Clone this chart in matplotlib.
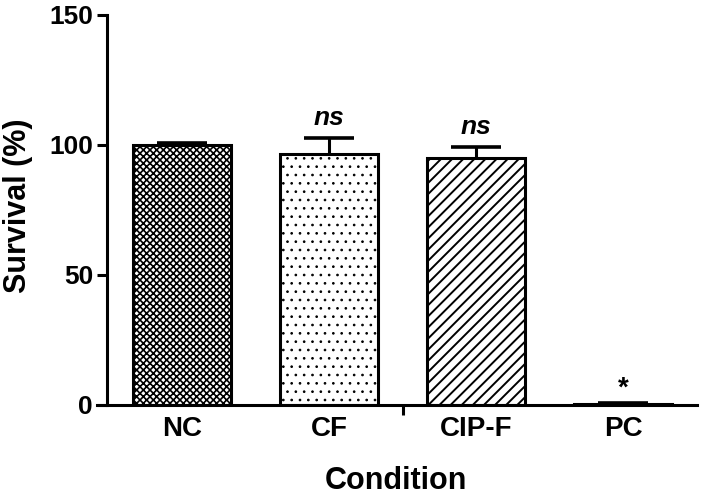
import matplotlib
matplotlib.use("Agg")
import matplotlib.pyplot as plt

conditions = ["NC", "CF", "CIP-F", "PC"]
survival = [100.0, 96.5, 95.0, 0.4]
errors = [0.8, 6.2, 4.3, 0.5]
marks = ["", "ns", "ns", "*"]
hatches = ["xxxxx", "..", "///", ""]
hatch_widths = [1.2, 0.7, 1.4, 1.0]

plt.rcParams['font.family'] = ['Liberation Sans', 'DejaVu Sans']
plt.rcParams['font.weight'] = 'bold'
plt.rcParams['hatch.linewidth'] = 1.3

fig = plt.figure(figsize=(7.02, 4.96), dpi=100)
ax = fig.add_axes([97 / 702, 91 / 496, 600 / 702, 390 / 496])

x = list(range(len(conditions)))
for i in x:
    bars = ax.bar(i, survival[i], width=0.67, color="white", edgecolor="black",
                  linewidth=2.2, hatch=hatches[i], zorder=2)
    for b in bars:
        if hasattr(b, "set_hatch_linewidth"):
            b.set_hatch_linewidth(hatch_widths[i])

# only the upper half of the error bars, like the original
eb = ax.errorbar(x, survival, yerr=[[0] * len(x), errors], fmt="none",
                 ecolor="black", elinewidth=2.2, capsize=18, capthick=2.6, zorder=3)
caps = eb[1]
if len(caps) > 1:
    caps[0].set_visible(False)

for i in x:
    if marks[i] == "*":
        ax.text(i, survival[i] + errors[i] + 0.5, marks[i], ha="center", va="bottom",
                fontsize=20, fontweight="bold")
    elif marks[i]:
        ax.text(i, survival[i] + errors[i] + 3, marks[i], ha="center", va="bottom",
                fontsize=19, fontweight="bold", fontstyle="italic")

ax.set_xlim(-0.578, 3.503)
ax.set_ylim(0, 150)
ax.spines['left'].set_position(('data', -0.51))
ax.spines['top'].set_visible(False)
ax.spines['right'].set_visible(False)
ax.spines['left'].set_linewidth(2.2)
ax.spines['bottom'].set_linewidth(2.2)

ax.set_yticks([0, 50, 100, 150])
ax.tick_params(axis='y', length=7, width=2.2, labelsize=19, pad=3)
ax.set_xticks([1.5])
ax.set_xticklabels([""])
ax.tick_params(axis='x', which='major', length=7, width=2.2)
ax.set_xticks(x, minor=True)
ax.set_xticklabels(conditions, minor=True)
ax.tick_params(axis='x', which='minor', length=0, labelsize=20, pad=8)

fig.text(18 / 702, 1 - 206 / 496, "Survival (%)", rotation=90, ha="center",
         va="center", fontsize=22, fontweight="bold")
fig.text(396 / 702, 1 - 481 / 496, "Condition", ha="center", va="center",
         fontsize=22, fontweight="bold")

fig.savefig("out.png", dpi=100)
